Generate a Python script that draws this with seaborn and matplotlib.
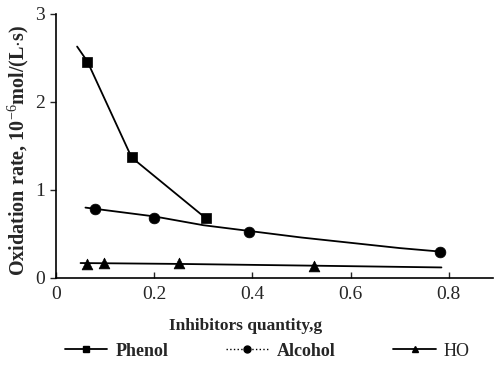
import numpy as np
import pandas as pd
import matplotlib
matplotlib.use('Agg')
import matplotlib.pyplot as plt
from matplotlib.lines import Line2D
import seaborn as sns

# measured points
phenol_x = [0.064, 0.154, 0.305]
phenol_y = [2.46, 1.37, 0.68]
alcohol_x = [0.079, 0.200, 0.393, 0.783]
alcohol_y = [0.78, 0.68, 0.52, 0.30]
ho_x = [0.063, 0.098, 0.250, 0.525]
ho_y = [0.16, 0.17, 0.17, 0.14]

# fitted curves drawn through the points
phenol_fit_x = [0.043, 0.064, 0.154, 0.305]
phenol_fit_y = [2.63, 2.46, 1.37, 0.68]
alcohol_fit_x = [0.060, 0.200, 0.300, 0.400, 0.500, 0.600, 0.700, 0.783]
alcohol_fit_y = [0.80, 0.70, 0.60, 0.53, 0.46, 0.40, 0.34, 0.30]
ho_fit_x = [0.050, 0.250, 0.525, 0.785]
ho_fit_y = [0.17, 0.16, 0.14, 0.12]

series = ['Phenol', 'Alcohol', 'HO']
markers = ['s', 'o', '^']
xticks = [0, 0.2, 0.4, 0.6, 0.8]
xtick_labels = ['0', '0.2', '0.4', '0.6', '0.8']
yticks = [0, 1, 2, 3]

sns.set_style('ticks')
plt.rcParams['font.family'] = ['Liberation Serif', 'DejaVu Serif']
plt.rcParams['mathtext.fontset'] = 'custom'
plt.rcParams['mathtext.rm'] = 'Liberation Serif'
plt.rcParams['mathtext.bf'] = 'Liberation Serif:bold'

fig = plt.figure(figsize=(4.94, 3.69), dpi=100)
ax = fig.add_axes([56 / 494, 1 - 278 / 369, 437 / 494, 264 / 369])

fits = [(phenol_fit_x, phenol_fit_y), (alcohol_fit_x, alcohol_fit_y), (ho_fit_x, ho_fit_y)]
pts = [(phenol_x, phenol_y), (alcohol_x, alcohol_y), (ho_x, ho_y)]
for (fx, fy), (px, py), m in zip(fits, pts, markers):
    sns.lineplot(x=fx, y=fy, ax=ax, color='black', lw=1.3, sort=False)
    sns.scatterplot(x=px, y=py, ax=ax, color='black', marker=m, s=60,
                    edgecolor='black', linewidth=0.5, zorder=3)

ax.set_xlim(0, 0.89)
ax.set_ylim(0, 3)
ax.set_xticks(xticks)
ax.set_xticklabels(xtick_labels)
ax.set_yticks(yticks)
sns.despine(ax=ax)
for s in ['left', 'bottom']:
    ax.spines[s].set_linewidth(1.2)
    ax.spines[s].set_color('black')
ax.tick_params(axis='x', direction='in', length=4, width=1, labelsize=14, pad=6)
ax.tick_params(axis='y', direction='out', length=4, width=1, labelsize=14, pad=4)

ax.set_xlabel('Inhibitors quantity,g', fontsize=12.5, fontweight='bold', va='center')
ax.xaxis.set_label_coords((246 - 56) / 437, (278 - 326) / 264)
ax.set_ylabel(r'Oxidation rate, 10$^{-6}$mol/(L$\cdot$s)', fontsize=14.5,
              fontweight='bold', va='center')
ax.yaxis.set_label_coords((18 - 56) / 437, (278 - 151) / 264)

handles = [
    Line2D([], [], color='black', lw=1.3, marker='s', markersize=4.5, ls='-'),
    Line2D([], [], color='black', lw=1.0, marker='o', markersize=5, ls=':'),
    Line2D([], [], color='black', lw=1.3, marker='^', markersize=4.5, ls='-'),
]
leg = fig.legend(handles, series, loc='center left', bbox_to_anchor=(65 / 494, 1 - 351 / 369),
                 ncol=3, frameon=False, handlelength=2.35, handletextpad=0.45,
                 columnspacing=3.2, borderpad=0, borderaxespad=0,
                 prop={'family': 'Liberation Serif', 'weight': 'bold', 'size': 13})
leg.get_texts()[2].set_fontweight('normal')
leg.get_texts()[2].set_fontsize(13)

fig.savefig('out.png', dpi=100)
